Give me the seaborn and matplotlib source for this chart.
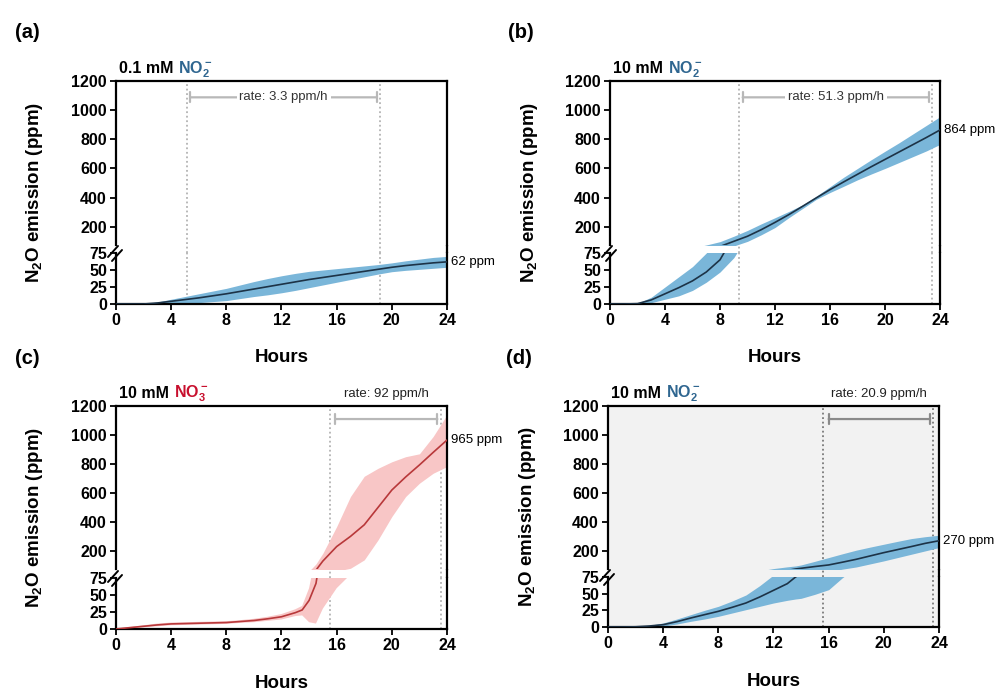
import numpy as np
import pandas as pd
import matplotlib.pyplot as plt
import seaborn as sns
from matplotlib.patches import Rectangle
from matplotlib.lines import Line2D

sns.set_style('ticks', {'text.color': 'black', 'axes.labelcolor': 'black',
                        'xtick.color': 'black', 'ytick.color': 'black'})
plt.rcParams['font.family'] = ['Liberation Sans', 'DejaVu Sans']
plt.rcParams['mathtext.fontset'] = 'custom'
plt.rcParams['mathtext.rm'] = 'Liberation Sans'
plt.rcParams['mathtext.bf'] = 'Liberation Sans:bold'

# dados (ppm de N2O por hora)
t_a = list(range(25))
mean_a = [0, 0, 0, 1.5, 4, 6.5, 9, 12, 15, 18.5, 22, 25.5, 29, 32.5, 36, 39, 42, 45, 48, 51, 54, 56.5, 58.5, 60.5, 62]
hi_a = [0, 0, 0.3, 3, 7, 11, 15, 19, 23, 28, 33, 37.5, 41.5, 45, 48, 50, 52, 54, 56, 58, 60.5, 63.5, 66, 68.5, 70]
lo_a = [0, 0, 0, 0, 0.5, 1, 2, 3.5, 5, 8, 11, 13.5, 16.5, 20, 24, 28, 32, 36, 40, 44, 47.5, 49.5, 51, 52.5, 54]

t_b = list(range(25))
mean_b = [0, 0, 0.5, 6, 15, 24, 34, 47, 65, 100, 135, 180, 230, 283, 340, 398, 455, 508, 560, 612, 662, 712, 762, 812, 864]
hi_b = [0, 0, 1, 10, 25, 40, 55, 75, 98, 135, 175, 220, 262, 305, 350, 410, 475, 540, 600, 660, 718, 775, 835, 895, 955]
lo_b = [0, 0, 0, 2, 7, 12, 20, 32, 47, 68, 100, 145, 195, 262, 325, 388, 435, 478, 522, 562, 600, 640, 680, 720, 765]

t_c = [0, 1, 2, 3, 4, 5, 6, 7, 8, 9, 10, 11, 12, 13, 13.5, 14, 14.5, 15, 16, 17, 18, 19, 20, 21, 22, 23, 24]
mean_c = [0, 2, 4, 6, 7.5, 8, 8.5, 9, 9.5, 11, 12.5, 15, 18, 24, 28, 42, 67, 130, 230, 300, 380, 500, 620, 710, 793, 880, 965]
hi_c = [0.5, 3, 5.5, 8, 9.5, 10, 10.5, 11, 11.5, 13, 15, 18, 22, 29, 34, 60, 110, 184, 368, 575, 715, 770, 815, 850, 870, 990, 1140]
lo_c = [0, 1, 2.5, 4, 5.5, 6, 6.5, 7, 7.5, 9, 10, 12, 14, 19, 20, 10, 8, 30, 60, 80, 138, 276, 437, 575, 667, 736, 782]

t_d = [0, 1, 2, 3, 4, 5, 6, 7, 8, 9, 10, 11, 12, 13, 13.6, 14, 15, 16, 17, 18, 19, 20, 21, 22, 23, 24]
mean_d = [0, 0, 0.3, 1.5, 3.5, 8, 13.5, 18.5, 23.5, 29.5, 36, 45, 55, 65, 75, 80, 92, 103, 122, 142, 165, 188, 209, 230, 252, 270]
hi_d = [0, 0, 0.5, 2.5, 6, 12, 18.5, 25, 31, 39, 48, 62, 78, 90, 96, 103, 128, 154, 180, 205, 226, 246, 266, 285, 298, 308]
lo_d = [0, 0, 0, 0.5, 1.5, 4.5, 8.5, 12, 16, 21, 26, 31, 36, 40, 42, 43, 49, 56, 74, 89, 110, 131, 154, 177, 200, 223]

letras = ['(a)', '(b)', '(c)', '(d)']
concentracoes = ['0.1 mM ', '10 mM ', '10 mM ', '10 mM ']
ions = [r'$\mathbf{NO_2^-}$', r'$\mathbf{NO_2^-}$', r'$\mathbf{NO_3^-}$', r'$\mathbf{NO_2^-}$']
taxas = ['rate: 3.3 ppm/h', 'rate: 51.3 ppm/h', 'rate: 92 ppm/h', 'rate: 20.9 ppm/h']
janelas = [(5.15, 19.15), (9.38, 23.4), (15.5, 23.55), (15.6, 23.6)]
colchetes = [(5.4, 18.9), (9.65, 23.2), (15.9, 23.3), (16.0, 23.35)]
finais = ['62 ppm', '864 ppm', '965 ppm', '270 ppm']

W, H = 1003, 691
fig = plt.figure(figsize=(W / 100, H / 100), dpi=100)

# geometria em pixels: x0, x1, topo, base do eixo superior, topo do inferior, base
geo = [(116, 447, 81, 245, 253, 304),
       (610, 940, 81, 245, 253, 304),
       (116, 447, 406, 569, 578, 629),
       (608, 939, 406, 569, 577, 627)]

azul_linha, azul_banda = '#1d3347', '#7ab6d9'
verm_linha, verm_banda = '#b8383a', '#f8c6c6'
cor_ion = ['#2f6690', '#2f6690', '#c8102e', '#2f6690']

dados = [(t_a, mean_a, lo_a, hi_a), (t_b, mean_b, lo_b, hi_b),
         (t_c, mean_c, lo_c, hi_c), (t_d, mean_d, lo_d, hi_d)]

lw_sp = 1.6
for i in range(4):
    x0, x1, yt, yub, ylt, yb = geo[i]
    t, m, lo, hi = dados[i]
    df = pd.DataFrame({'Hora': t, 'N2O': m})
    if i == 2:
        cl, cb = verm_linha, verm_banda
    else:
        cl, cb = azul_linha, azul_banda
    fundo = '#f2f2f2' if i == 3 else 'white'

    ax_up = fig.add_axes([x0 / W, 1 - yub / H, (x1 - x0) / W, (yub - yt) / H], facecolor=fundo)
    ax_lo = fig.add_axes([x0 / W, 1 - yb / H, (x1 - x0) / W, (yb - ylt) / H], facecolor=fundo)
    h_up = yub - yt
    gap = (ylt - yub) / h_up

    for ax in (ax_up, ax_lo):
        ax.fill_between(t, lo, hi, color=cb, lw=0, zorder=2)
        sns.lineplot(data=df, x='Hora', y='N2O', ax=ax, color=cl, lw=1.2, zorder=3)
        ax.set_xlim(0, 24)
        ax.set_xlabel('')
        ax.set_ylabel('')
        for s in ax.spines.values():
            s.set_linewidth(lw_sp)
            s.set_color('black')
        ax.tick_params(direction='out', length=4.5, width=1.3, labelsize=11.5, pad=2,
                       colors='black')

    ax_up.set_ylim(75, 1200)
    ax_up.set_yticks([200, 400, 600, 800, 1000, 1200])
    ax_up.spines['bottom'].set_visible(False)
    ax_up.tick_params(axis='x', bottom=False, labelbottom=False)
    ax_lo.set_ylim(0, 75)
    ax_lo.set_yticks([0, 25, 50, 75])
    ax_lo.set_xticks([0, 4, 8, 12, 16, 20, 24])
    ax_lo.spines['top'].set_visible(False)
    for ax in (ax_up, ax_lo):
        for lab in ax.get_xticklabels() + ax.get_yticklabels():
            lab.set_fontweight('bold')

    # fundo e eixo direito continuos no intervalo
    if i == 3:
        ax_up.add_patch(Rectangle((0, -gap), 1, gap, transform=ax_up.transAxes,
                                  clip_on=False, fc=fundo, ec='none', zorder=0))
    ax_up.plot([1, 1], [0, -gap], transform=ax_up.transAxes, clip_on=False,
               color='black', lw=lw_sp, solid_capstyle='butt')

    # marcas de quebra
    for dx, dy in [(0, 0), (4, 4)]:
        fig.add_artist(Line2D([(x0 - 8 + dx) / W, (x0 + 2 + dx) / W],
                              [1 - (ylt + 4 + dy) / H, 1 - (ylt - 7 + dy) / H],
                              color='black', lw=1.4))

    # linhas pontilhadas da janela
    cor_pont = '#7a7a7a' if i == 3 else '#b3b3b3'
    cor_colch = '#8a8a8a' if i == 3 else '#b8b8b8'
    for xv in janelas[i]:
        ax_up.axvline(xv, ymin=-gap, ymax=1, clip_on=False, color=cor_pont,
                      ls=(0, (1, 1.5)), lw=1.3, zorder=1)
        ax_lo.axvline(xv, color=cor_pont, ls=(0, (1, 1.5)), lw=1.3, zorder=1)

    # colchete da taxa
    ca, cbx = colchetes[i]
    if i < 2:
        yc = 1088
        ax_up.annotate('', xy=(cbx, yc), xytext=(ca, yc),
                       arrowprops=dict(arrowstyle='|-|, widthA=0.35, widthB=0.35',
                                       color=cor_colch, lw=1.6, shrinkA=0, shrinkB=0))
        ax_up.text((ca + cbx) / 2, yc, taxas[i], ha='center', va='center', fontsize=9.5,
                   color='#333333', bbox=dict(fc='white', ec='none', pad=2), zorder=5)
    else:
        yc = 1110
        ax_up.annotate('', xy=(cbx, yc), xytext=(ca, yc),
                       arrowprops=dict(arrowstyle='|-|, widthA=0.35, widthB=0.35',
                                       color=cor_colch, lw=1.6, shrinkA=0, shrinkB=0))
        ax_up.text((ca + cbx) / 2, 1.055, taxas[i], ha='center', va='baseline', fontsize=9.5,
                   color='#222222', transform=ax_up.get_xaxis_transform())

    # valor final
    ax_fim = ax_lo if m[-1] < 75 else ax_up
    ax_fim.annotate(finais[i], xy=(24, m[-1]), xytext=(3, 0), textcoords='offset points',
                    ha='left', va='center', fontsize=9.5, annotation_clip=False)

    # titulo
    t1 = ax_up.text(0.01, 1 + 8 / h_up, concentracoes[i], transform=ax_up.transAxes,
                    ha='left', va='baseline', fontsize=11.5, fontweight='bold')
    fig.canvas.draw()
    bb = t1.get_window_extent()
    xr = ax_up.transAxes.inverted().transform((bb.x1, bb.y0))[0]
    ax_up.text(xr, 1 + 8 / h_up, ions[i], transform=ax_up.transAxes, ha='left',
               va='baseline', fontsize=11.5, color=cor_ion[i])

    # rotulos
    fig.text((x0 + x1) / 2 / W, 1 - (yb + 54) / H, 'Hours', ha='center', va='center',
             fontsize=13.5, fontweight='bold')
    fig.text((x0 - 81) / W, 1 - (yt + yb) / 2 / H, r'N$_\mathbf{2}$O emission (ppm)',
             rotation=90, ha='center', va='center', fontsize=13.5, fontweight='bold')
    fig.text((x0 - 89) / W, 1 - (yt - 48) / H, letras[i], ha='center', va='center',
             fontsize=14.5, fontweight='bold')

fig.savefig('out.png', dpi=100)
